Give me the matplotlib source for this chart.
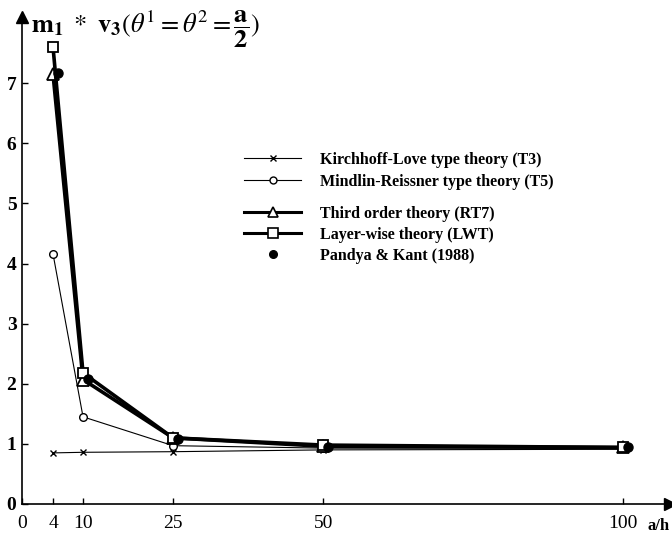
import numpy as np
import matplotlib
matplotlib.use("Agg")
import matplotlib.pyplot as plt
from matplotlib.lines import Line2D
from matplotlib.transforms import offset_copy

plt.rcParams["font.family"] = "Liberation Serif"
plt.rcParams["mathtext.fontset"] = "stix"

# a/h ratios and central moment results for each theory
ratios = [4, 10, 25, 50, 100]
kirchhoff_t3 = [0.85, 0.86, 0.87, 0.90, 0.91]
mindlin_t5 = [4.16, 1.45, 0.97, 0.93, 0.93]
third_order_rt7 = [7.15, 2.07, 1.10, 0.96, 0.94]
layer_wise_lwt = [7.60, 2.18, 1.10, 0.98, 0.94]
pandya_ratios = [4, 10, 25, 50, 100]
pandya_kant = [7.17, 2.08, 1.08, 0.95, 0.95]

xtick_values = [0, 4, 10, 25, 50, 100]
ytick_values = [0, 1, 2, 3, 4, 5, 6, 7]

# the hand-drawn abscissa is not quite uniform near the origin
knot_vals = np.array([0, 4, 10, 25, 50, 100, 110])
knot_pos = np.array([0, 31, 61, 151, 301, 601, 661])


def fwd(v):
    return np.interp(v, knot_vals, knot_pos)


def inv(p):
    return np.interp(p, knot_pos, knot_vals)


fig = plt.figure(figsize=(6.72, 5.33), dpi=100)
ax = fig.add_axes([22 / 672, 29 / 533, 648 / 672, 487 / 533])
ax.set_xscale("function", functions=(fwd, inv))
ax.set_xlim(0, 107.8)
ax.set_ylim(0, 8.1)

ax.plot(ratios, kirchhoff_t3, color="black", lw=0.8, marker="x", ms=5, mew=1.0)
ax.plot(ratios, mindlin_t5, color="black", lw=0.8, marker="o", ms=5.5,
        mfc="white", mew=1.0)
ax.plot(ratios, third_order_rt7, color="black", lw=2.6, marker="^", ms=8,
        mfc="white", mew=1.3)
ax.plot(ratios, layer_wise_lwt, color="black", lw=2.6, marker="s", ms=7.5,
        mfc="white", mew=1.3)
shifted = offset_copy(ax.transData, fig=fig, x=5, y=0, units="dots")
ax.plot(pandya_ratios, pandya_kant, ls="none", marker="o", ms=6.5,
        color="black", transform=shifted)

# axes drawn as two arrows
for side in ["top", "right"]:
    ax.spines[side].set_visible(False)
ax.spines["left"].set_linewidth(1.2)
ax.spines["bottom"].set_linewidth(1.2)
ax.plot(1, 0, ">", color="black", ms=9, transform=ax.transAxes, clip_on=False)
ax.plot(0, 1, "^", color="black", ms=9, transform=ax.transAxes, clip_on=False)

ax.set_xticks(xtick_values)
ax.set_xticklabels([str(v) for v in xtick_values], fontsize=14)
ax.set_yticks(ytick_values)
ax.set_yticklabels([str(v) for v in ytick_values], fontsize=14,
                   fontweight="bold")
ax.tick_params(axis="both", direction="in", length=4, width=1.0)
ax.tick_params(axis="x", pad=8)
ax.tick_params(axis="y", pad=4)

ax.text(1.0, -0.045, "a/h", transform=ax.transAxes, fontsize=12,
        fontweight="bold", ha="right", va="center", clip_on=False)
ax.text(0.014, 0.975,
        r"$\mathbf{m}_{\mathbf{1}}\ *\ \mathbf{v}_{\mathbf{3}}"
        r"(\theta^1 = \theta^2 = \dfrac{\mathbf{a}}{\mathbf{2}})$",
        transform=ax.transAxes, fontsize=19, ha="left", va="center",
        clip_on=False)

legend_font = {"family": "Liberation Serif", "weight": "bold", "size": 11.5}
upper = [
    Line2D([], [], color="black", lw=0.8, marker="x", ms=5, mew=1.0),
    Line2D([], [], color="black", lw=0.8, marker="o", ms=5, mfc="white"),
]
lower = [
    Line2D([], [], color="black", lw=2.2, marker="^", ms=7, mfc="white",
           mew=1.2),
    Line2D([], [], color="black", lw=2.2, marker="s", ms=7, mfc="white",
           mew=1.2),
    Line2D([], [], ls="none", color="black", marker="o", ms=5.5),
]
leg1 = ax.legend(upper, ["Kirchhoff-Love type theory (T3)",
                         "Mindlin-Reissner type theory (T5)"],
                 loc="upper left", bbox_to_anchor=(0.33, 0.74),
                 frameon=False, prop=legend_font, handlelength=3.6,
                 handletextpad=1.2, labelspacing=0.38, borderpad=0)
ax.add_artist(leg1)
ax.legend(lower, ["Third order theory (RT7)", "Layer-wise theory (LWT)",
                  "Pandya & Kant (1988)"],
          loc="upper left", bbox_to_anchor=(0.33, 0.629),
          frameon=False, prop=legend_font, handlelength=3.6,
          handletextpad=1.2, labelspacing=0.32, borderpad=0)

fig.savefig("out.png", dpi=100)
